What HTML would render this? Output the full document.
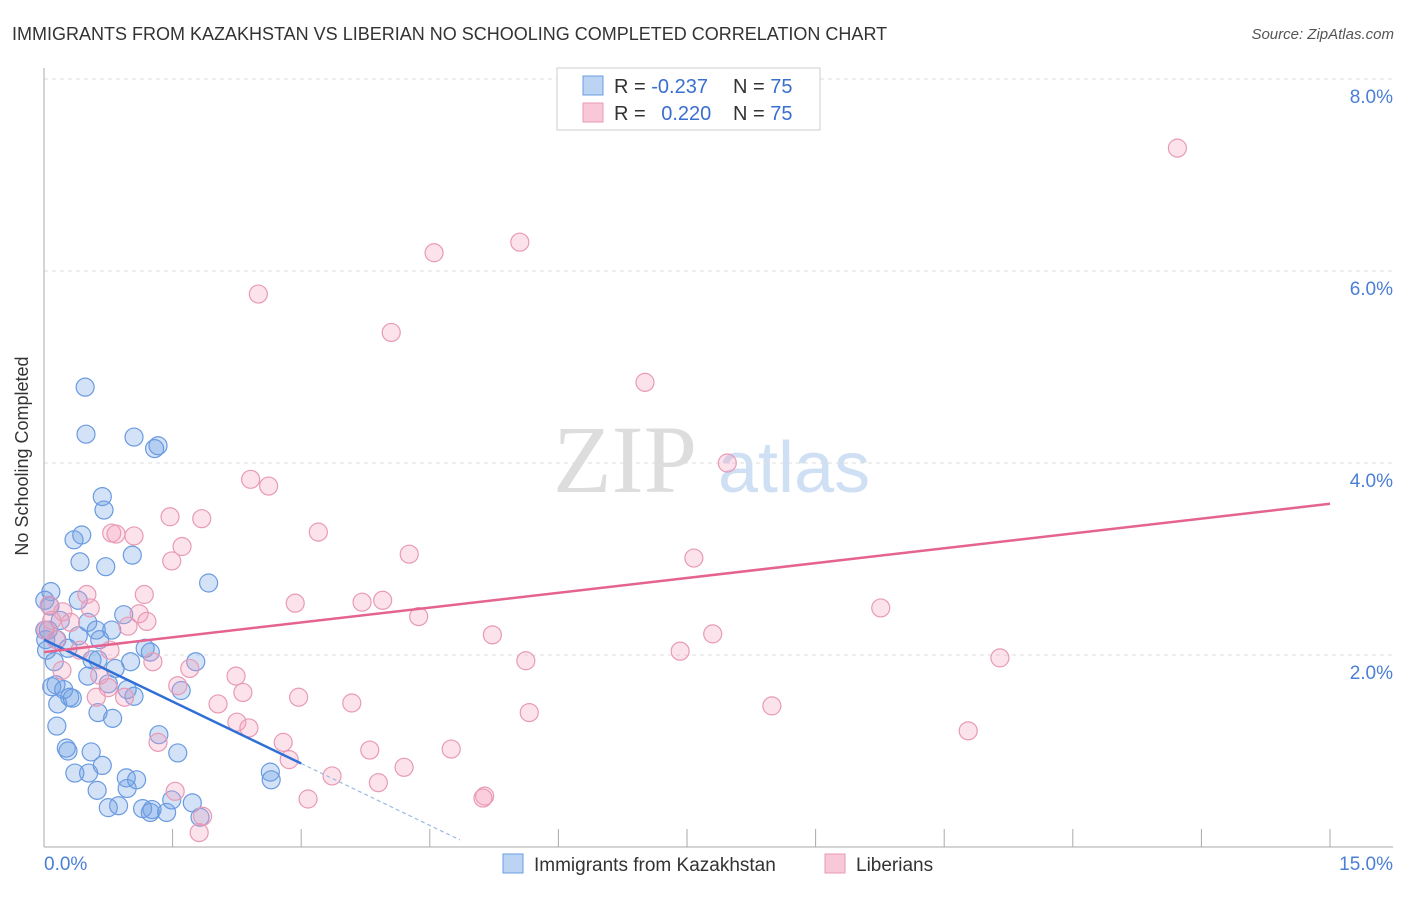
<!DOCTYPE html>
<html><head><meta charset="utf-8"><style>
body{margin:0;background:#fff;font-family:"Liberation Sans",sans-serif;}
</style></head><body>
<svg width="1406" height="892" viewBox="0 0 1406 892" xmlns="http://www.w3.org/2000/svg">
<text x="12" y="40" font-size="18" fill="#333">IMMIGRANTS FROM KAZAKHSTAN VS LIBERIAN NO SCHOOLING COMPLETED CORRELATION CHART</text>
<text x="1394" y="39" font-size="15" fill="#555" font-style="italic" text-anchor="end">Source: ZipAtlas.com</text>
<g>
<text x="553" y="492" font-size="96" font-family="Liberation Serif,serif" fill="#ddd">ZIP</text>
<text x="718" y="492" font-size="72" fill="#cfe0f5">atlas</text>
</g>
<g id="grid"></g>
<g id="axes"></g>
<g id="pts"></g>
<g id="trend"></g>
<text x="28" y="456" font-size="18" fill="#333" text-anchor="middle" transform="rotate(-90 28 456)">No Schooling Completed</text>
<g>
<rect x="557" y="68" width="263" height="62" fill="#fff" stroke="#ccc"/>
<rect x="583" y="76" width="20" height="19" fill="#bcd4f3" stroke="#6a9be0"/>
<rect x="583" y="103" width="20" height="19" fill="#f8c8d8" stroke="#e89ab5"/>
<text x="614" y="93" font-size="20" fill="#333">R = <tspan fill="#3a6fd0">-0.237</tspan></text>
<text x="733" y="93" font-size="20" fill="#333">N = <tspan fill="#3a6fd0">75</tspan></text>
<text x="614" y="120" font-size="20" fill="#333">R = <tspan fill="#3a6fd0" dx="10">0.220</tspan></text>
<text x="733" y="120" font-size="20" fill="#333">N = <tspan fill="#3a6fd0">75</tspan></text>
</g>
<g>
<rect x="503" y="854" width="20" height="19" fill="#bcd4f3" stroke="#6a9be0"/>
<text x="534" y="871" font-size="19" fill="#333">Immigrants from Kazakhstan</text>
<rect x="825" y="854" width="20" height="19" fill="#f8c8d8" stroke="#e89ab5"/>
<text x="856" y="871" font-size="19" fill="#333">Liberians</text>
</g>
</svg>
<script>
const blueX=[0.48,0.49,1.05,1.33,1.29,0.68,0.70,0.35,0.44,1.03,0.42,0.72,1.92,0.08,0.07,0.05,0.93,0.51,0.61,0.79,0.40,0.15,0.28,1.18,1.24,0.56,0.12,0.63,1.01,1.77,0.83,0.14,0.09,0.23,0.30,0.51,0.75,0.97,1.05,1.60,0.16,0.33,0.63,0.80,0.15,0.26,0.28,0.55,1.56,1.34,0.68,0.36,0.52,0.96,1.08,0.97,0.62,2.64,2.65,0.75,0.87,1.15,1.26,1.24,1.43,1.49,1.73,1.82,0.02,0.01,0.03,0.19,0.40,0.01,0.65];
const blueY=[4.79,4.30,4.27,4.18,4.15,3.65,3.51,3.20,3.25,3.04,2.97,2.92,2.75,2.66,2.51,2.26,2.42,2.34,2.26,2.26,2.20,2.16,2.07,2.07,2.03,1.95,1.93,1.95,1.93,1.93,1.86,1.69,1.67,1.64,1.56,1.78,1.70,1.64,1.57,1.63,1.49,1.55,1.40,1.34,1.26,1.03,1.00,0.99,0.98,1.17,0.85,0.77,0.77,0.72,0.70,0.61,0.59,0.78,0.70,0.41,0.43,0.40,0.39,0.36,0.36,0.49,0.46,0.31,2.16,2.26,2.05,2.36,2.57,2.57,2.16];
const pinkX=[13.22,5.55,4.55,2.50,4.05,7.01,7.97,2.41,2.62,1.47,1.84,0.79,0.84,1.05,3.20,1.61,1.49,4.26,7.58,1.17,0.50,3.71,3.95,2.93,0.06,0.22,0.54,1.11,1.20,0.98,9.76,4.37,5.23,7.80,0.31,0.02,0.14,0.42,1.27,1.70,5.62,11.15,7.42,2.24,1.56,2.32,2.97,0.75,0.61,0.94,2.03,3.59,8.49,5.66,10.78,2.25,2.39,1.33,2.79,3.80,4.75,2.86,4.20,3.36,3.90,1.53,5.14,5.12,3.08,1.85,1.81,0.65,0.77,0.21,0.09];
const pinkY=[7.28,6.30,6.19,5.76,5.36,4.84,4.00,3.83,3.76,3.44,3.42,3.27,3.26,3.24,3.28,3.13,2.98,3.05,3.01,2.63,2.63,2.55,2.57,2.54,2.52,2.45,2.49,2.43,2.35,2.30,2.49,2.40,2.21,2.22,2.34,2.26,2.16,2.05,1.93,1.86,1.94,1.97,2.04,1.78,1.68,1.61,1.56,1.66,1.56,1.56,1.49,1.50,1.47,1.40,1.21,1.30,1.24,1.09,1.09,1.01,1.02,0.91,0.83,0.74,0.67,0.58,0.53,0.51,0.50,0.32,0.15,1.79,2.05,1.84,2.36];
const blueTrend=[2.16,-0.43]; // intercept, slope
const pinkTrend=[2.03,0.103];
const yTicks=[2,4,6,8];
const yTickLabels=["2.0%","4.0%","6.0%","8.0%"];
const xTicks=[1.5,3,4.5,6,7.5,9,10.5,12,13.5,15];
const NS='http://www.w3.org/2000/svg';
const sx=v=>44+v*1286/15, sy=v=>847-v*96;
function mk(t,a,p){const e=document.createElementNS(NS,t);for(const k in a)e.setAttribute(k,a[k]);p.appendChild(e);return e;}
const grid=document.getElementById('grid'),axes=document.getElementById('axes'),pts=document.getElementById('pts'),trend=document.getElementById('trend');
mk('line',{x1:44,x2:1393,y1:79,y2:79,stroke:'#ddd','stroke-dasharray':'4,4'},grid);
yTicks.forEach((v,i)=>{
 const l=mk('line',{x1:44,x2:1393,y1:sy(v),y2:sy(v),stroke:'#ddd','stroke-dasharray':'4,4'},grid);
 
 
 const t=mk('text',{x:1393,y:sy(v)+24,'font-size':19,fill:'#4a7fd6','text-anchor':'end'},axes);
 t.textContent=yTickLabels[i];
 
 
});
mk('line',{x1:44,x2:44,y1:68,y2:847,stroke:'#aaa'},axes);
mk('line',{x1:44,x2:1393,y1:847,y2:847,stroke:'#aaa'},axes);
xTicks.forEach(v=>{const l=mk('line',{x1:sx(v),x2:sx(v),y1:829,y2:847,stroke:'#aaa'},axes);
 
 });
const t0=mk('text',{x:44,y:870,'font-size':19,fill:'#4a7fd6'},axes);t0.textContent='0.0%';


const t1=mk('text',{x:1393,y:870,'font-size':19,fill:'#4a7fd6','text-anchor':'end'},axes);t1.textContent='15.0%';


blueX.forEach((x,i)=>{const c=mk('circle',{cx:sx(x),cy:sy(blueY[i]),r:9,fill:'rgba(110,160,230,0.3)',stroke:'#6a9be0','stroke-width':1.2},pts);
 
 });
pinkX.forEach((x,i)=>{const c=mk('circle',{cx:sx(x),cy:sy(pinkY[i]),r:9,fill:'rgba(245,160,190,0.3)',stroke:'#e89ab5','stroke-width':1.2},pts);
 
 });
const bl=v=>blueTrend[0]+blueTrend[1]*v, pl=v=>pinkTrend[0]+pinkTrend[1]*v;
let a=mk('line',{x1:sx(0),y1:sy(bl(0)),x2:sx(3),y2:sy(bl(3)),stroke:'#2f6fd6','stroke-width':2.5},trend);


a=mk('line',{x1:sx(3),y1:sy(bl(3)),x2:sx(4.85),y2:sy(bl(4.85)),stroke:'#9bb8e6','stroke-width':1.2,'stroke-dasharray':'4,3'},trend);


a=mk('line',{x1:sx(0),y1:sy(pl(0)),x2:sx(15),y2:sy(pl(15)),stroke:'#e5638f','stroke-width':2.5},trend);


</script>
</body></html>
